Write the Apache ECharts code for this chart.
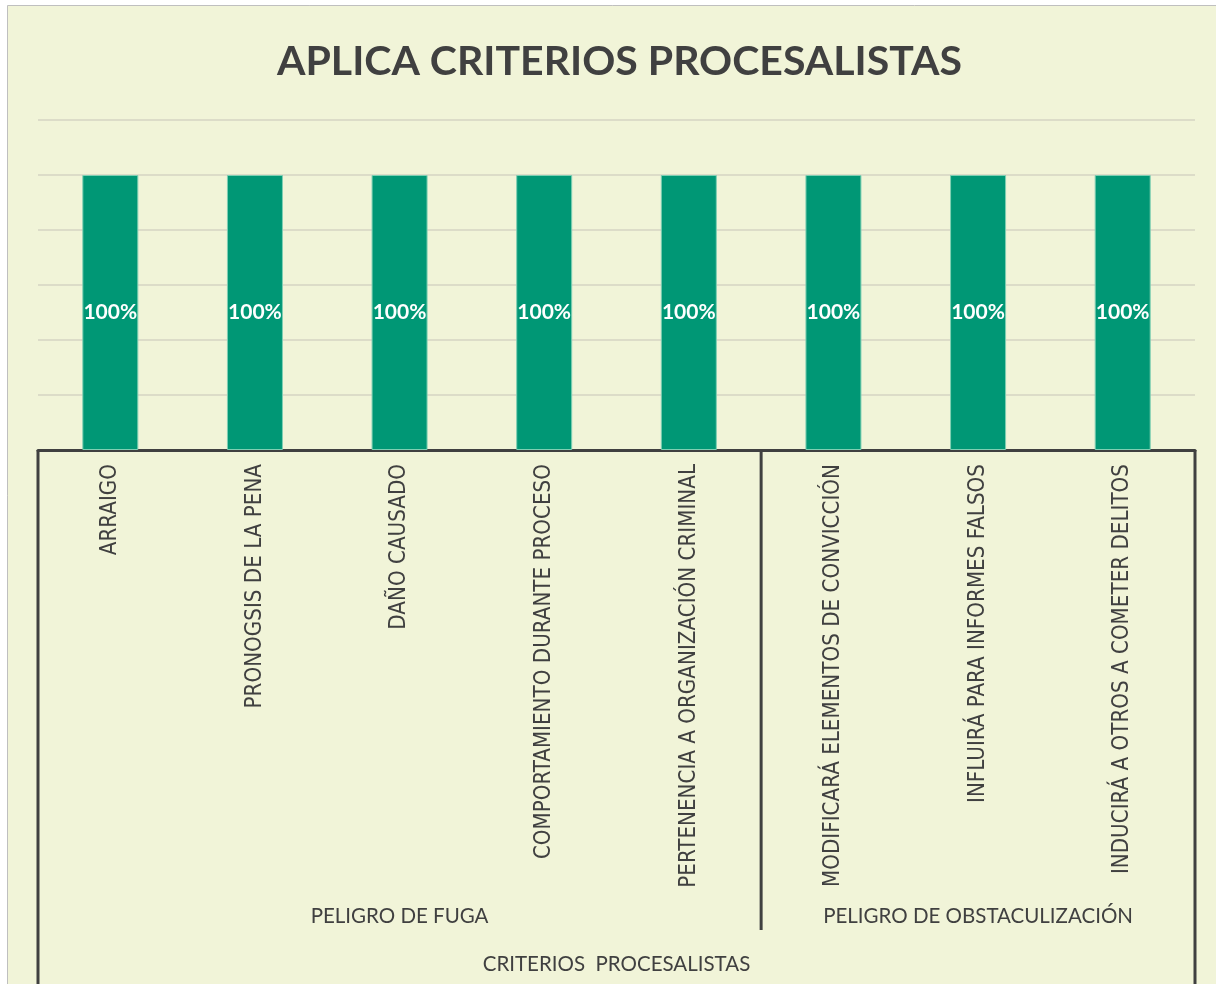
<!DOCTYPE html>
<html>
<head>
<meta charset="utf-8">
<script src="https://cdn.jsdelivr.net/npm/echarts@6/dist/echarts.min.js"></script>
<style>
  html, body { margin: 0; padding: 0; background: #ffffff; }
  #main { width: 1216px; height: 984px; }
</style>
</head>
<body>
<div id="main"></div>
<script>
// datos del gráfico
const chartTitle = 'APLICA CRITERIOS PROCESALISTAS'
const categories = [
  'ARRAIGO',
  'PRONOGSIS DE LA PENA',
  'DAÑO CAUSADO',
  'COMPORTAMIENTO DURANTE PROCESO',
  'PERTENENCIA A ORGANIZACIÓN CRIMINAL',
  'MODIFICARÁ ELEMENTOS DE CONVICCIÓN',
  'INFLUIRÁ PARA INFORMES FALSOS',
  'INDUCIRÁ A OTROS A COMETER DELITOS'
]
const values = [1, 1, 1, 1, 1, 1, 1, 1]
const groupNames = ['PELIGRO DE FUGA', 'PELIGRO DE OBSTACULIZACIÓN']
const groupSizes = [5, 3]
const axisTitle = 'CRITERIOS  PROCESALISTAS'
const yMax = 1.2
const yStep = 0.2

const darkLine = '#404040'
const narrowFont = '"Liberation Sans Narrow", "DejaVu Sans Condensed", sans-serif'

const chart = echarts.init(document.getElementById('main'))

const option = {
  backgroundColor: 'transparent',
  animation: false,
  title: {
    text: chartTitle,
    left: 272,
    top: 36,
    textStyle: {
      fontFamily: 'Lato, sans-serif',
      fontWeight: 'bold',
      fontSize: 41,
      color: '#404040'
    }
  },
  grid: {
    left: 38,
    right: 21,
    top: 120,
    bottom: 534,
    containLabel: false,
    outerBoundsMode: 'none'
  },
  xAxis: {
    type: 'category',
    data: categories,
    boundaryGap: true,
    name: axisTitle,
    nameLocation: 'middle',
    nameGap: 504,
    nameTextStyle: {
      fontFamily: 'Lato, sans-serif',
      fontSize: 20.5,
      color: '#404040'
    },
    axisLine: { show: true, lineStyle: { color: darkLine, width: 3 } },
    axisTick: { show: false },
    axisLabel: {
      interval: 0,
      rotate: 90,
      margin: 14,
      fontFamily: narrowFont,
      fontSize: 22.2,
      color: '#404040'
    }
  },
  yAxis: {
    type: 'value',
    min: 0,
    max: yMax,
    interval: yStep,
    axisLabel: { show: false },
    axisLine: { show: false },
    axisTick: { show: false },
    splitLine: { lineStyle: { color: '#dcdcc8', width: 2 } }
  },
  series: [
    {
      type: 'bar',
      data: values,
      barWidth: 56,
      itemStyle: {
        color: '#009775',
        borderColor: '#7fcfb3',
        borderWidth: 1
      },
      label: {
        show: true,
        position: 'inside',
        formatter: p => Math.round(p.value * 100) + '%',
        color: '#ffffff',
        fontFamily: 'Lato, sans-serif',
        fontWeight: 'bold',
        fontSize: 21
      }
    }
  ]
}

chart.setOption(option)

// separadores y etiquetas de grupo, calculados desde el eje
const xs = categories.map((c, i) => chart.convertToPixel({ xAxisIndex: 0 }, i))
const step = xs[1] - xs[0]
const leftEdge = xs[0] - step / 2
const rightEdge = xs[xs.length - 1] + step / 2
const axisY = chart.convertToPixel({ yAxisIndex: 0 }, 0)

const graphics = [
  {
    type: 'rect',
    z: -10,
    silent: true,
    shape: { x: 7.5, y: 5.5, width: 1220, height: 990 },
    style: { fill: '#f1f4d8', stroke: '#bfbfbf', lineWidth: 1 }
  },
  {
    type: 'line',
    shape: { x1: leftEdge, y1: axisY, x2: leftEdge, y2: 984 },
    style: { stroke: darkLine, lineWidth: 3 }
  },
  {
    type: 'line',
    shape: { x1: rightEdge, y1: axisY, x2: rightEdge, y2: 984 },
    style: { stroke: darkLine, lineWidth: 3 }
  }
]

let start = 0
groupNames.forEach((name, g) => {
  const end = start + groupSizes[g] - 1
  const cx = (xs[start] + xs[end]) / 2
  graphics.push({
    type: 'text',
    x: cx,
    y: 916,
    style: {
      text: name,
      x: 0,
      y: 0,
      align: 'center',
      verticalAlign: 'middle',
      fill: '#404040',
      font: '20.5px Lato, sans-serif'
    }
  })
  if (g < groupNames.length - 1) {
    const bx = xs[end] + step / 2
    graphics.push({
      type: 'line',
      shape: { x1: bx, y1: axisY, x2: bx, y2: 930 },
      style: { stroke: darkLine, lineWidth: 3 }
    })
  }
  start = end + 1
})

chart.setOption({ graphic: graphics })
</script>
</body>
</html>
